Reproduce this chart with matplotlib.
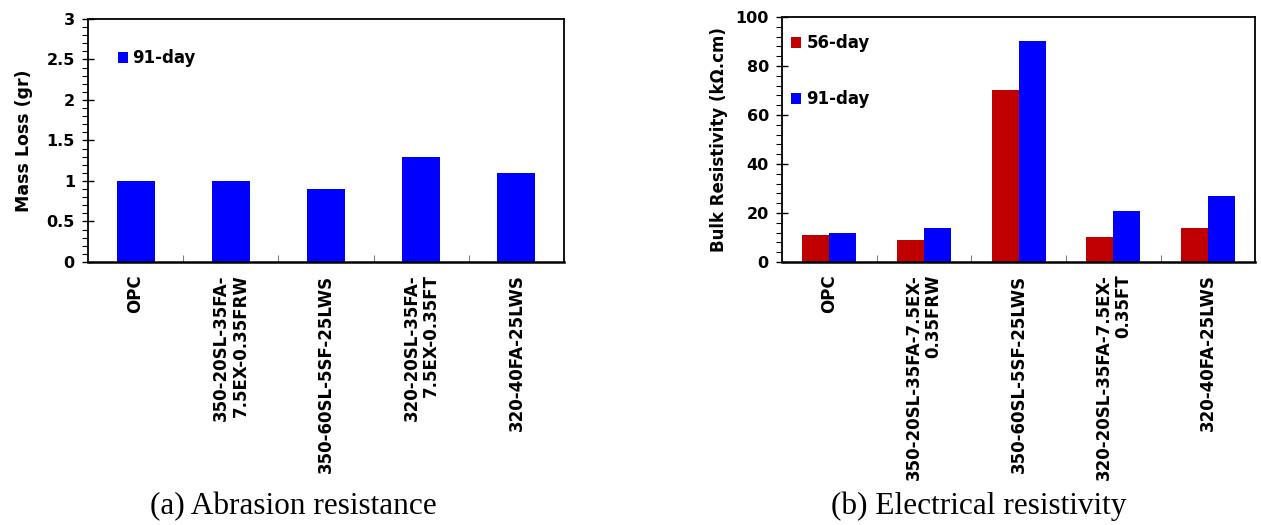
import numpy as np
import matplotlib
matplotlib.use('Agg')
import matplotlib.pyplot as plt
from matplotlib.ticker import MultipleLocator, FixedLocator

plt.rcParams['font.family'] = ['DejaVu Sans']
plt.rcParams['font.weight'] = 'bold'

# data
mixes_a = ['OPC', '350-20SL-35FA-\n7.5EX-0.35FRW', '350-60SL-5SF-25LWS',
           '320-20SL-35FA-\n7.5EX-0.35FT', '320-40FA-25LWS']
mixes_b = ['OPC', '350-20SL-35FA-7.5EX-\n0.35FRW', '350-60SL-5SF-25LWS',
           '320-20SL-35FA-7.5EX-\n0.35FT', '320-40FA-25LWS']
mass_loss_91 = [1.0, 1.0, 0.9, 1.3, 1.1]
resist_56 = [11, 9, 70, 10, 14]
resist_91 = [12, 14, 90, 21, 27]

RED = '#C00000'
BLUE = '#0000FF'


def style_axes(ax, labels):
    n = len(labels)
    ax.set_xlim(-0.5, n - 0.5)
    ax.set_xticks(np.arange(n))
    ax.set_xticklabels(labels, rotation=90, va='top', ha='center',
                       multialignment='right', fontsize=12, fontweight='bold',
                       linespacing=1.1)
    ax.tick_params(axis='x', which='major', length=0, pad=9)
    ax.xaxis.set_minor_locator(FixedLocator(np.arange(0.5, n - 0.5, 1.0)))
    ax.tick_params(axis='x', which='minor', direction='in', length=5,
                   width=0.8, color='#808080')
    ax.tick_params(axis='y', which='major', direction='inout', length=9,
                   width=1.0, labelsize=11.5, pad=5)
    ax.tick_params(axis='y', which='minor', direction='out', length=4, width=0.8)
    for lab in ax.get_yticklabels():
        lab.set_fontweight('bold')
    for s in ax.spines.values():
        s.set_linewidth(1.3)
    ax.spines['bottom'].set_linewidth(1.8)


fig = plt.figure(figsize=(12.61, 5.25), dpi=100)

# (a) abrasion
ax1 = fig.add_axes([0.0698, 0.501, 0.3775, 0.4629])
x = np.arange(len(mixes_a))
ax1.bar(x, mass_loss_91, width=0.4, color=BLUE, label='91-day')
ax1.set_ylim(0, 3)
ax1.set_yticks([0, 0.5, 1, 1.5, 2, 2.5, 3])
ax1.set_yticklabels(['0', '0.5', '1', '1.5', '2', '2.5', '3'])
ax1.yaxis.set_minor_locator(MultipleLocator(0.1))
style_axes(ax1, mixes_a)
ax1.set_ylabel('Mass Loss (gr)', fontsize=12.5, fontweight='bold', labelpad=10)
ax1.legend(loc='upper left', bbox_to_anchor=(0.062, 0.875), frameon=False,
           prop={'size': 12, 'weight': 'bold'}, handlelength=0.6,
           handleheight=0.6, handletextpad=0.3, borderpad=0, borderaxespad=0)

# (b) electrical resistivity
ax2 = fig.add_axes([0.6201, 0.501, 0.3755, 0.4667])
x = np.arange(len(mixes_b))
w = 1 / 3.5
ax2.bar(x - w / 2, resist_56, width=w, color=RED, label='56-day')
ax2.bar(x + w / 2, resist_91, width=w, color=BLUE, label='91-day')
ax2.set_ylim(0, 100)
ax2.yaxis.set_major_locator(MultipleLocator(20))
ax2.yaxis.set_minor_locator(MultipleLocator(4))
style_axes(ax2, mixes_b)
ax2.set_ylabel('Bulk Resistivity (k\u03a9.cm)', fontsize=12, fontweight='bold',
               labelpad=5)
ax2.legend(loc='upper left', bbox_to_anchor=(0.02, 0.93), frameon=False,
           prop={'size': 12, 'weight': 'bold'}, handlelength=0.6,
           handleheight=0.6, handletextpad=0.3, labelspacing=2.3,
           borderpad=0, borderaxespad=0)

# captions
fig.text(0.2328, 0.035, '(a) Abrasion resistance', ha='center', va='center',
         fontsize=22.5, fontweight='normal',
         family=['Liberation Serif', 'DejaVu Serif'])
fig.text(0.7765, 0.035, '(b) Electrical resistivity', ha='center', va='center',
         fontsize=22.5, fontweight='normal',
         family=['Liberation Serif', 'DejaVu Serif'])

fig.savefig('out.png', dpi=100)
